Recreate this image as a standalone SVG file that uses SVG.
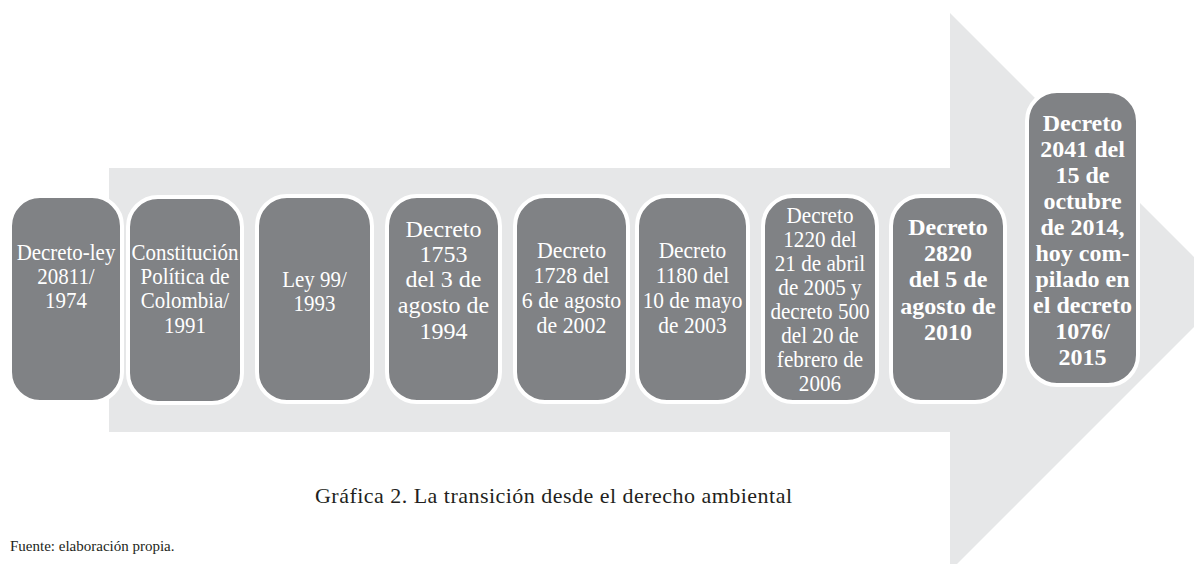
<svg xmlns="http://www.w3.org/2000/svg" width="1194" height="564" viewBox="0 0 1194 564">
<style>
.box{fill:#808285;stroke:#ffffff;stroke-width:4}
.t{font-family:"Liberation Serif",serif;font-size:23px;fill:#ffffff;text-anchor:middle}
.tw{font-family:"Liberation Serif",serif;font-size:24px;fill:#ffffff;text-anchor:middle}
.tb{font-family:"Liberation Serif",serif;font-size:24px;font-weight:bold;fill:#ffffff;text-anchor:middle}
.cap{font-family:"Liberation Serif",serif;font-size:22px;fill:#231f20}
.src{font-family:"Liberation Serif",serif;font-size:15px;fill:#231f20}
</style>
<rect width="1194" height="564" fill="#ffffff"/>
<g id="arrow">
<polygon points="109,168 950,168 950,13 1229,292 950,571 950,432 109,432" fill="#e6e7e8"/>
</g>
<g id="connectors"></g>
<g id="n1">
<rect class="box" x="10" y="196" width="112" height="206" rx="30"/>
<g transform="translate(66 0) scale(0.91 1)"><text class="t"><tspan x="0" y="260">Decreto-ley</tspan><tspan x="0" y="284">20811/</tspan><tspan x="0" y="308">1974</tspan></text></g>
</g>
<g id="n2">
<rect class="box" x="128" y="197" width="114" height="206" rx="30"/>
<g transform="translate(185 0) scale(0.91 1)"><text class="t"><tspan x="0" y="260">Constitución</tspan><tspan x="0" y="284">Política de</tspan><tspan x="0" y="308">Colombia/</tspan><tspan x="0" y="333">1991</tspan></text></g>
</g>
<g id="n3">
<rect class="box" x="257" y="196" width="115" height="206" rx="30"/>
<g transform="translate(314.5 0) scale(0.91 1)"><text class="t"><tspan x="0" y="287">Ley 99/</tspan><tspan x="0" y="311">1993</tspan></text></g>
</g>
<g id="n4">
<rect class="box" x="387" y="196" width="113" height="206" rx="30"/>
<text class="tw"><tspan x="443.5" y="237">Decreto</tspan><tspan x="443.5" y="262">1753</tspan><tspan x="443.5" y="287">del 3 de</tspan><tspan x="443.5" y="313">agosto de</tspan><tspan x="443.5" y="339">1994</tspan></text>
</g>
<g id="n5">
<rect class="box" x="515" y="196" width="113" height="206" rx="30"/>
<g transform="translate(571.5 0) scale(0.95 1)"><text class="t"><tspan x="0" y="258">Decreto</tspan><tspan x="0" y="283">1728 del</tspan><tspan x="0" y="308">6 de agosto</tspan><tspan x="0" y="333">de 2002</tspan></text></g>
</g>
<g id="n6">
<rect class="box" x="637" y="196" width="111" height="206" rx="30"/>
<g transform="translate(692.5 0) scale(0.93 1)"><text class="t"><tspan x="0" y="258">Decreto</tspan><tspan x="0" y="283">1180 del</tspan><tspan x="0" y="308">10 de mayo</tspan><tspan x="0" y="333">de 2003</tspan></text></g>
</g>
<g id="n7">
<rect class="box" x="763" y="196" width="114" height="206" rx="30"/>
<g transform="translate(820 0) scale(0.92 1)"><text class="t"><tspan x="0" y="223">Decreto</tspan><tspan x="0" y="247">1220 del</tspan><tspan x="0" y="271">21 de abril</tspan><tspan x="0" y="295">de 2005 y</tspan><tspan x="0" y="319">decreto 500</tspan><tspan x="0" y="343">del 20 de</tspan><tspan x="0" y="367">febrero de</tspan><tspan x="0" y="391">2006</tspan></text></g>
</g>
<g id="n8">
<rect class="box" x="891" y="196" width="114" height="206" rx="30"/>
<text class="tb"><tspan x="948" y="235">Decreto</tspan><tspan x="948" y="261">2820</tspan><tspan x="948" y="287">del 5 de</tspan><tspan x="948" y="314">agosto de</tspan><tspan x="948" y="340">2010</tspan></text>
</g>
<g id="n9">
<rect class="box" x="1027" y="91" width="111" height="294" rx="30"/>
<text class="tb"><tspan x="1082.5" y="131">Decreto</tspan><tspan x="1082.5" y="157">2041 del</tspan><tspan x="1082.5" y="183">15 de</tspan><tspan x="1082.5" y="209">octubre</tspan><tspan x="1082.5" y="235">de 2014,</tspan><tspan x="1082.5" y="261">hoy com-</tspan><tspan x="1082.5" y="287">pilado en</tspan><tspan x="1082.5" y="313">el decreto</tspan><tspan x="1082.5" y="339">1076/</tspan><tspan x="1082.5" y="365">2015</tspan></text>
</g>
<text class="cap" x="315" y="503" textLength="477" lengthAdjust="spacing">Gráfica 2. La transición desde el derecho ambiental</text>
<text class="src" x="10" y="551">Fuente: elaboración propia.</text>
</svg>
